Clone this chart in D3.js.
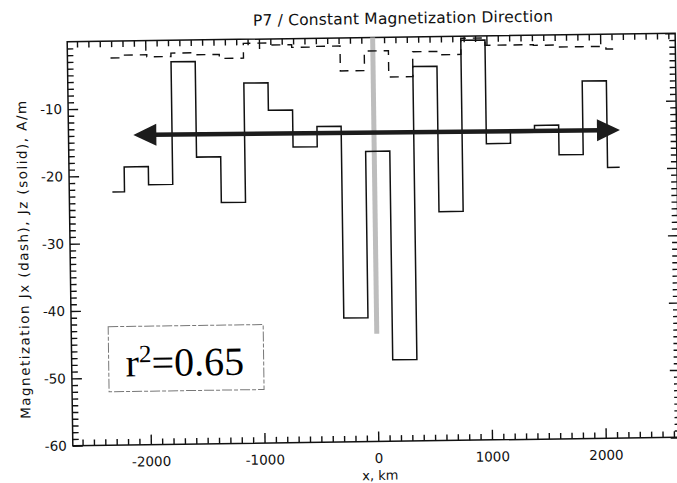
<!DOCTYPE html>
<html><head><meta charset="utf-8">
<script src="https://cdn.jsdelivr.net/npm/d3@7"></script>
<style>body{margin:0;background:#fff}svg{display:block}</style>
</head><body>
<svg id="chart" width="677" height="483"></svg>
<script>
// ---- data ----
const xPositions = [-2307, -2094, -1882, -1669, -1457, -1244, -1032, -819, -607, -394, -182, 31, 243, 456, 668, 881, 1093, 1306, 1518, 1731, 1943, 2156];
const jzValues   = [-22.4, -18.7, -21.4, -3.2, -17.4, -24.2, -6.5, -10.6, -16.1, -13.1, -41.6, -16.9, -47.9, -4.4, -26.0, -0.6, -16.0, -14.4, -13.4, -17.8, -6.9, -19.8];
const jxValues   = [-2.5, -2.1, -2.4, -1.9, -2.2, -2.8, -0.6, -0.9, -1.3, -1.2, -4.9, -2.0, -5.9, -2.2, -2.7, -0.3, -1.4, -1.4, -1.5, -1.8, -1.8, -2.2];
const xTicks = [-2000, -1000, 0, 1000, 2000];
const yTicks = [-60, -50, -40, -30, -20, -10];
const xMinorTicks = [-2600, -2500, -2400, -2300, -2200, -2100, -1900, -1800, -1700, -1600, -1500, -1400, -1300, -1200, -1100, -900, -800, -700, -600, -500, -400, -300, -200, -100, 100, 200, 300, 400, 500, 600, 700, 800, 900, 1100, 1200, 1300, 1400, 1500, 1600, 1700, 1800, 1900, 2100, 2200, 2300, 2400, 2500, 2600];
const yMinorTicks = [-59, -58, -57, -56, -55, -54, -53, -52, -51, -49, -48, -47, -46, -45, -44, -43, -42, -41, -39, -38, -37, -36, -35, -34, -33, -32, -31, -29, -28, -27, -26, -25, -24, -23, -22, -21, -19, -18, -17, -16, -15, -14, -13, -12, -11, -9, -8, -7, -6, -5, -4, -3, -2, -1];
const xDomain = [-2686, 2660];
const yDomain = [-60, 0];
const arrowX = [-2116, 2163];
const arrowY = [-13.98, -14.26];
const markerX = [0, 0];
const markerY = [0, -44];
const titleText = "P7 / Constant Magnetization Direction";
const yLabelText = "Magnetization Jx (dash), Jz (solid), A/m";
const xLabelText = "x, km";
const r2Label = {base: "r", sup: "2", rest: "=0.65"};

// ---- layout ----
const W = 677, H = 483;
const plot = {left: 70, right: 678, top: 37.5, bottom: 441.5};
const svg = d3.select("#chart");
svg.append("rect").attr("width", W).attr("height", H).attr("fill", "#fff");
const g = svg.append("g").attr("transform", "rotate(-0.8, 373, 241)");

const x = d3.scaleLinear().domain(xDomain).range([plot.left, plot.right]);
const y = d3.scaleLinear().domain(yDomain).range([plot.bottom, plot.top]);
const font = "'DejaVu Sans', sans-serif";
const ink = "#111";

// frame
g.append("rect").attr("x", plot.left).attr("y", plot.top)
  .attr("width", plot.right - plot.left).attr("height", plot.bottom - plot.top)
  .attr("fill", "none").attr("stroke", ink).attr("stroke-width", 1.5);

const yMajorAll = [-60].concat(yTicks, [0]);

function styleAxis(sel, len) {
  sel.select(".domain").remove();
  sel.selectAll("line").attr("stroke", ink).attr("stroke-width", 1.4);
  sel.selectAll("text").attr("font-family", font).attr("font-size", 13.5).attr("fill", ink);
}
// major ticks + labels
g.append("g").attr("transform", `translate(0,${plot.bottom})`)
  .call(d3.axisBottom(x).tickValues(xTicks).tickSize(-10).tickPadding(12).tickFormat(d => String(d))).call(styleAxis);
g.append("g").attr("transform", `translate(0,${plot.top})`)
  .call(d3.axisTop(x).tickValues(xTicks).tickSize(-10).tickFormat(() => "")).call(styleAxis);
g.append("g").attr("transform", `translate(${plot.left},0)`)
  .call(d3.axisLeft(y).tickValues(yTicks).tickSize(-10).tickPadding(6).tickFormat(d => String(d))).call(styleAxis);
g.append("g").attr("transform", `translate(${plot.right},0)`)
  .call(d3.axisRight(y).tickValues(yMajorAll).tickSize(-10).tickFormat(() => "")).call(styleAxis);
// minor ticks (axes without labels)
g.append("g").attr("transform", `translate(0,${plot.bottom})`)
  .call(d3.axisBottom(x).tickValues(xMinorTicks).tickSize(-6).tickFormat(() => "")).call(styleAxis);
g.append("g").attr("transform", `translate(0,${plot.top})`)
  .call(d3.axisTop(x).tickValues(xMinorTicks).tickSize(-6).tickFormat(() => "")).call(styleAxis);
g.append("g").attr("transform", `translate(${plot.left},0)`)
  .call(d3.axisLeft(y).tickValues(yMinorTicks).tickSize(-6).tickFormat(() => "")).call(styleAxis);
g.append("g").attr("transform", `translate(${plot.right},0)`)
  .call(d3.axisRight(y).tickValues(yMinorTicks).tickSize(-6).tickFormat(() => "")).call(styleAxis);

// gray vertical marker
g.append("line")
  .attr("x1", x(markerX[0])).attr("x2", x(markerX[1]))
  .attr("y1", y(markerY[0])).attr("y2", y(markerY[1]))
  .attr("stroke", "#bdbdbd").attr("stroke-width", 5);

// step lines
const stepLine = d3.line().x(d => x(d[0])).y(d => y(d[1])).curve(d3.curveStep);
g.append("path").datum(xPositions.map((v, i) => [v, jxValues[i]]))
  .attr("d", stepLine).attr("fill", "none").attr("stroke", ink)
  .attr("stroke-width", 1.4).attr("stroke-dasharray", "9,7");
g.append("path").datum(xPositions.map((v, i) => [v, jzValues[i]]))
  .attr("d", stepLine).attr("fill", "none").attr("stroke", ink)
  .attr("stroke-width", 1.5);

// double arrow
const ax1 = x(arrowX[0]), ay1 = y(arrowY[0]), ax2 = x(arrowX[1]), ay2 = y(arrowY[1]);
const headL = 23, headW = 11;
const ang = Math.atan2(ay2 - ay1, ax2 - ax1);
const ux = Math.cos(ang), uy = Math.sin(ang);
g.append("line").attr("x1", ax1 + ux * headL * 0.8).attr("y1", ay1 + uy * headL * 0.8)
  .attr("x2", ax2 - ux * headL * 0.8).attr("y2", ay2 - uy * headL * 0.8)
  .attr("stroke", "#1c1c1c").attr("stroke-width", 4.5);
function head(tx, ty, dir) {
  const bx = tx - dir * ux * headL, by = ty - dir * uy * headL;
  const px = -uy * headW, py = ux * headW;
  g.append("path").attr("d", `M${tx},${ty}L${bx + px},${by + py}L${bx - px},${by - py}Z`)
    .attr("fill", "#1c1c1c");
}
head(ax1, ay1, -1);
head(ax2, ay2, 1);

// r^2 box
const box = {x: 107, y: 323, w: 155, h: 65};
g.append("rect").attr("x", box.x).attr("y", box.y).attr("width", box.w).attr("height", box.h)
  .attr("fill", "none").attr("stroke", "#777").attr("stroke-width", 1).attr("stroke-dasharray", "10,2,4,2");
const t = g.append("text").attr("x", box.x + 17).attr("y", box.y + 50)
  .attr("font-family", "'Liberation Serif', 'Times New Roman', serif").attr("font-size", 40).attr("fill", "#000");
t.append("tspan").text(r2Label.base);
t.append("tspan").attr("font-size", 25).attr("dy", -14).text(r2Label.sup);
t.append("tspan").attr("dy", 14).text(r2Label.rest);

// titles
g.append("text").attr("x", 406).attr("y", 24).attr("text-anchor", "middle")
  .attr("font-family", font).attr("font-size", 15.5).attr("fill", ink)
  .attr("textLength", 300).attr("lengthAdjust", "spacing").text(titleText);
g.append("text").attr("x", 377).attr("y", 480).attr("text-anchor", "middle")
  .attr("font-family", font).attr("font-size", 13).attr("fill", ink).text(xLabelText);
g.append("text").attr("transform", "translate(28,255) rotate(-90)").attr("text-anchor", "middle")
  .attr("font-family", font).attr("font-size", 13.5).attr("fill", ink)
  .attr("textLength", 318).attr("lengthAdjust", "spacing").text(yLabelText);
</script>
</body></html>
